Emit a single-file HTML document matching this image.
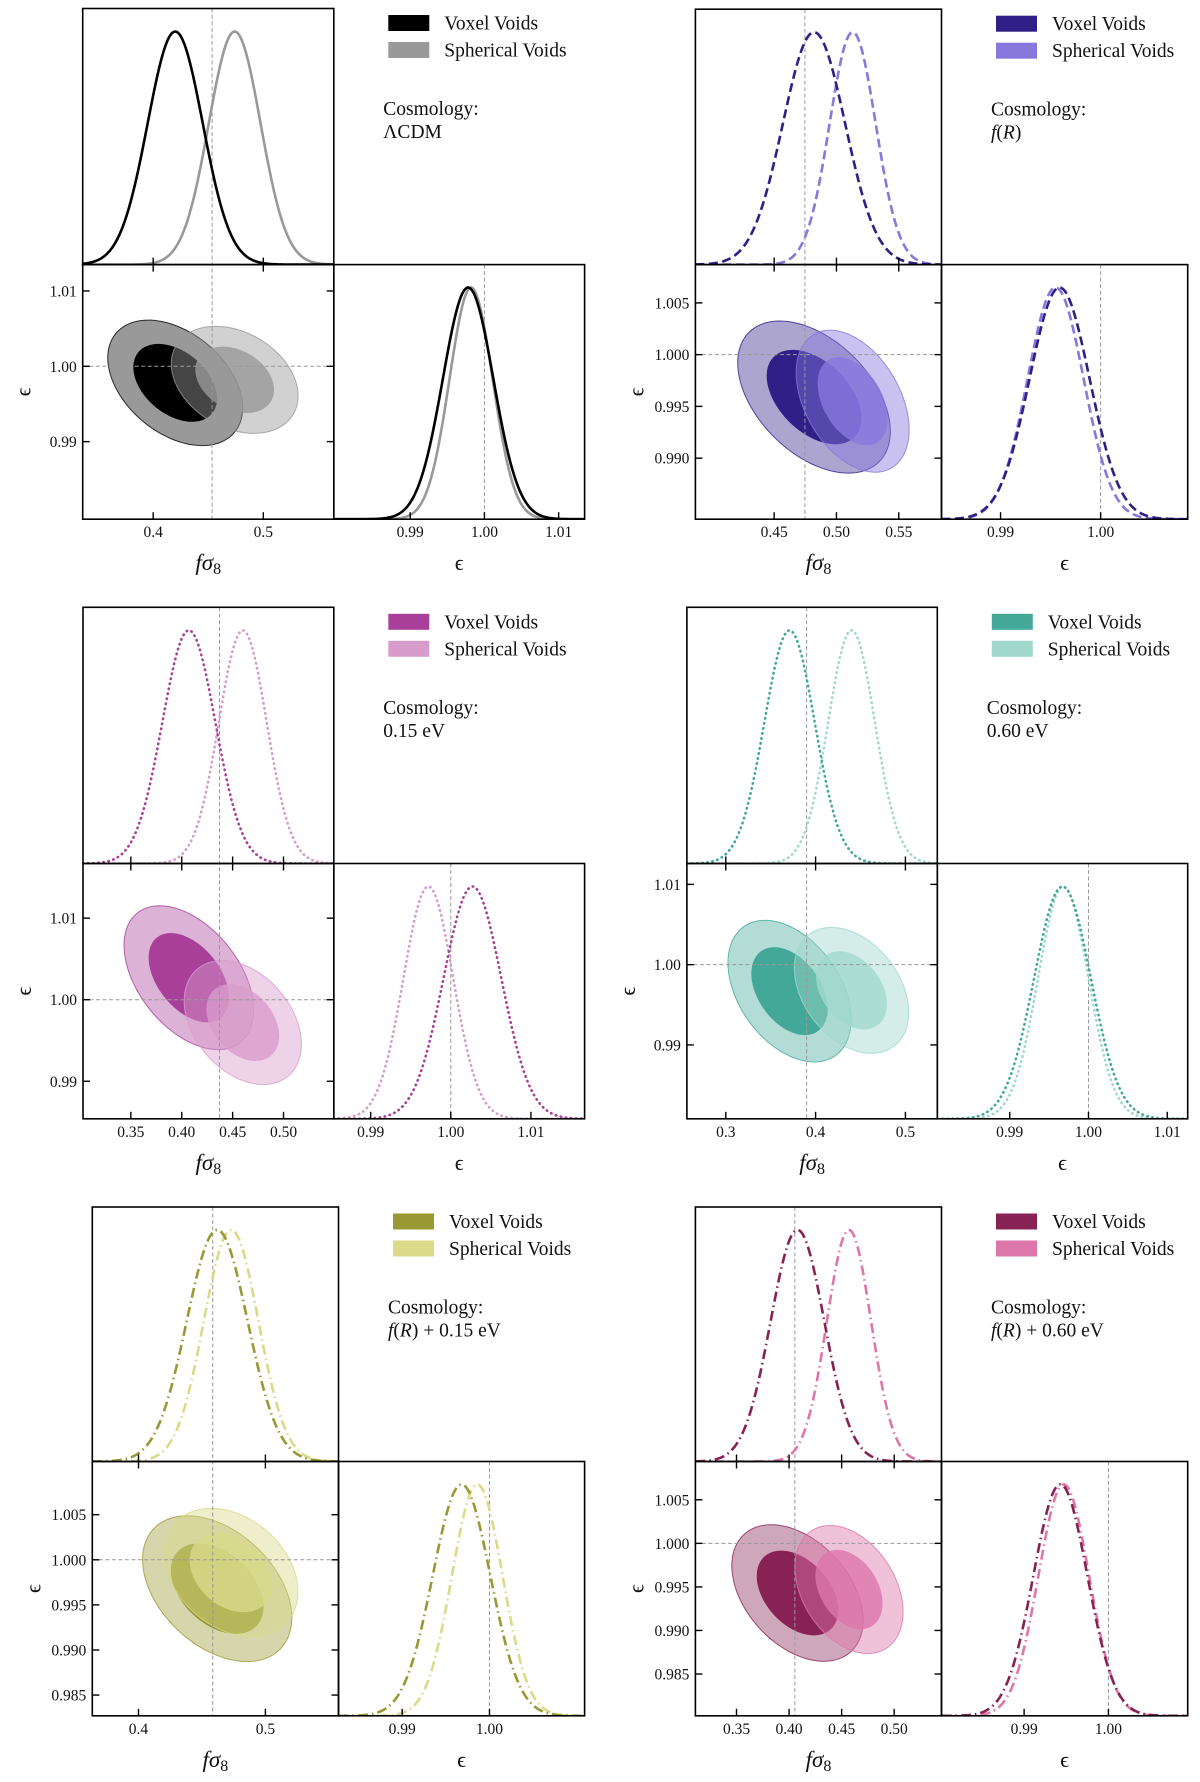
<!DOCTYPE html>
<html><head><meta charset="utf-8"><title>Void posteriors</title>
<style>
html,body{margin:0;padding:0;background:#fff;}
svg{display:block;font-family:"Liberation Serif","DejaVu Serif",serif;}
</style></head>
<body>
<svg id="chart" xmlns="http://www.w3.org/2000/svg" width="1200" height="1782" viewBox="0 0 1200 1782"></svg>
<script>
// ---- data (one entry per cosmology panel) ----
const cosmologies = ['ΛCDM', 'f(R)', '0.15 eV', '0.60 eV', 'f(R) + 0.15 eV', 'f(R) + 0.60 eV'];
const voxelFsMean  = [0.420, 0.482, 0.407, 0.371, 0.462, 0.408];
const voxelFsSigma = [0.0250, 0.0250, 0.0260, 0.0280, 0.0240, 0.0255];
const voxelEpsMean = [0.9978, 0.9959, 1.0027, 0.9967, 0.9968, 0.9943];
const voxelEpsSigma= [0.0034, 0.0030, 0.0036, 0.0036, 0.0033, 0.0032];
const voxelRho     = [-0.4, -0.45, -0.45, -0.4, -0.4, -0.4];
const sphFsMean    = [0.474, 0.513, 0.460, 0.440, 0.473, 0.457];
const sphFsSigma   = [0.0235, 0.0185, 0.0235, 0.0260, 0.0215, 0.0210];
const sphEpsMean   = [0.9982, 0.9955, 0.9972, 0.9968, 0.9986, 0.9947];
const sphEpsSigma  = [0.0029, 0.0028, 0.0031, 0.0032, 0.0029, 0.0030];
const sphRho       = [-0.3, -0.4, -0.35, -0.35, -0.3, -0.35];
const truthFs      = [0.4535, 0.4747, 0.4371, 0.390, 0.4585, 0.4055];
const truthEps     = [1.0, 1.0, 1.0, 1.0, 1.0, 1.0];
const fsTicks = [[0.4,0.5],[0.45,0.5,0.55],[0.35,0.4,0.45,0.5],[0.3,0.4,0.5],[0.4,0.5],[0.35,0.4,0.45,0.5]];
const fsTickLabels = [['0.4','0.5'],['0.45','0.50','0.55'],['0.35','0.40','0.45','0.50'],['0.3','0.4','0.5'],['0.4','0.5'],['0.35','0.40','0.45','0.50']];
const epsTicks = [[0.99,1.0,1.01],[0.99,0.995,1.0,1.005],[0.99,1.0,1.01],[0.99,1.0,1.01],[0.985,0.99,0.995,1.0,1.005],[0.985,0.99,0.995,1.0,1.005]];
const epsTickLabels = [['0.99','1.00','1.01'],['0.990','0.995','1.000','1.005'],['0.99','1.00','1.01'],['0.99','1.00','1.01'],['0.985','0.990','0.995','1.000','1.005'],['0.985','0.990','0.995','1.000','1.005']];
const diagTicks = [[0.99,1.0,1.01],[0.99,1.0],[0.99,1.0,1.01],[0.99,1.0,1.01],[0.99,1.0],[0.99,1.0]];
const diagTickLabels = [['0.99','1.00','1.01'],['0.99','1.00'],['0.99','1.00','1.01'],['0.99','1.00','1.01'],['0.99','1.00'],['0.99','1.00']];
const fsRange  = [[0.336,0.564],[0.3868,0.5843],[0.303,0.5494],[0.2567,0.5355],[0.3636,0.5576],[0.3109,0.545]];
const epsRange = [[0.9797,1.0135],[0.9841,1.0087],[0.9854,1.0167],[0.9808,1.0126],[0.9827,1.0109],[0.9802,1.0094]];

// ---- layout / style ----
const frames = [[82.7,333.8,584.6,8.5,264.6,519.2],[695.4,941.5,1187.7,9.2,264.6,519.2],[83,333.8,584.6,607.3,863.5,1118.8],[686.9,937.3,1187.7,607.3,863.5,1118.8],[92.3,338.5,584.6,1207,1461.5,1715.8],[695.4,941.5,1187.7,1207,1461.5,1715.8]];
const voxelColors = ['#000000','#2f1f86','#a8409a','#44a898','#999933','#882255'];
const sphColors   = ['#999999','#8877dd','#d89ccc','#a0d8cc','#dada8a','#dd77aa'];
const dashes = [null,'9,4.5','0.5,4.6','0.5,4.6','10,4,1.5,4','10,4,1.5,4'];

const NS='http://www.w3.org/2000/svg';
const svg=document.getElementById('chart');
function mk(tag,attrs,parent){const e=document.createElementNS(NS,tag);for(const k in attrs)e.setAttribute(k,attrs[k]);(parent||svg).appendChild(e);return e;}

function gauss(x,m,s){return Math.exp(-0.5*((x-m)/s)*((x-m)/s));}

for(let i=0;i<6;i++){
  const [x0,x1,x2,y0,y1,y2]=frames[i];
  const [fa,fb]=fsRange[i],[ea,eb]=epsRange[i];
  const sx=v=>x0+(v-fa)/(fb-fa)*(x1-x0);
  const sy=v=>y2-(v-ea)/(eb-ea)*(y2-y1);
  const dx=v=>x1+(v-ea)/(eb-ea)*(x2-x1);
  const g=mk('g',{});
  
  

  const defs=mk('defs',{},g);
  const cid='c2d'+i, cm='cm'+i, cd='cd'+i;
  const c1=mk('clipPath',{id:cid},defs); mk('rect',{x:x0,y:y1,width:x1-x0,height:y2-y1},c1);
  const c2=mk('clipPath',{id:cm},defs); mk('rect',{x:x0,y:y0,width:x1-x0,height:y1-y0},c2);
  const c3=mk('clipPath',{id:cd},defs); mk('rect',{x:x1,y:y1,width:x2-x1,height:y2-y1},c3);

  const cg=mk('g',{'clip-path':'url(#'+cid+')'},g);
  const series=[
    {n:'voxel',fm:voxelFsMean[i],fs:voxelFsSigma[i],em:voxelEpsMean[i],es:voxelEpsSigma[i],r:voxelRho[i],c:voxelColors[i],oo:0.4,io:1.0},
    {n:'spherical',fm:sphFsMean[i],fs:sphFsSigma[i],em:sphEpsMean[i],es:sphEpsSigma[i],r:sphRho[i],c:sphColors[i],oo:0.45,io:0.8}
  ];
  series.forEach(s=>{
    [[2.45,s.oo,'outer'],[1.52,s.io,'inner']].forEach(([k,op,lvl])=>{
      let d='';
      for(let t=0;t<=120;t++){
        const a=t/120*2*Math.PI;
        const fv=s.fm+k*s.fs*Math.cos(a);
        const ev=s.em+k*s.es*(s.r*Math.cos(a)+Math.sqrt(1-s.r*s.r)*Math.sin(a));
        d+=(t?'L':'M')+sx(fv).toFixed(2)+','+sy(ev).toFixed(2);
      }
      const p=mk('path',{d:d+'Z',fill:s.c,'fill-opacity':op,stroke:lvl==='outer'?s.c:'none','stroke-opacity':0.8,'stroke-width':1},cg);
      
      
    });
  });
  mk('line',{x1:sx(truthFs[i]),x2:sx(truthFs[i]),y1:y0,y2:y2,stroke:'#999','stroke-width':1,'stroke-dasharray':'4,2.5'},g);
  mk('line',{x1:x0,x2:x1,y1:sy(truthEps[i]),y2:sy(truthEps[i]),stroke:'#999','stroke-width':1,'stroke-dasharray':'4,2.5'},g);
  mk('line',{x1:dx(truthEps[i]),x2:dx(truthEps[i]),y1:y1,y2:y2,stroke:'#999','stroke-width':1,'stroke-dasharray':'4,2.5'},g);

  const mg=mk('g',{'clip-path':'url(#'+cm+')'},g);
  const dg=mk('g',{'clip-path':'url(#'+cd+')'},g);
  const hM=(y1-y0)*0.91, hD=(y2-y1)*0.91;
  series.slice().reverse().forEach(s=>{
    let d1='',d2='';
    for(let t=0;t<=240;t++){
      const fv=fa+(fb-fa)*t/240, ev=ea+(eb-ea)*t/240;
      d1+=(t?'L':'M')+sx(fv).toFixed(2)+','+(y1-hM*gauss(fv,s.fm,s.fs)).toFixed(2);
      d2+=(t?'L':'M')+dx(ev).toFixed(2)+','+(y2-hD*gauss(ev,s.em,s.es)).toFixed(2);
    }
    const at={fill:'none',stroke:s.c,'stroke-width':2.6,'stroke-linecap':dashes[i]&&dashes[i].startsWith('0.5')?'round':'butt'};
    if(dashes[i])at['stroke-dasharray']=dashes[i];
    const p1=mk('path',Object.assign({d:d1},at),mg);
    
    
    const p2=mk('path',Object.assign({d:d2},at),dg);
    
    
  });

  [[x0,y0,x1-x0,y1-y0,'fs8-marginal-axes'],[x0,y1,x1-x0,y2-y1,'joint-axes'],[x1,y1,x2-x1,y2-y1,'eps-marginal-axes']].forEach(([x,y,w,h,n])=>{
    const r=mk('rect',{x:x,y:y,width:w,height:h,fill:'none',stroke:'#000','stroke-width':1.6},g);
    
    
  });
  const T=7;
  fsTicks[i].forEach((v,j)=>{
    const X=sx(v);
    mk('line',{x1:X,x2:X,y1:y2,y2:y2-T,stroke:'#000','stroke-width':1.4},g);
    mk('line',{x1:X,x2:X,y1:y1-T,y2:y1+T,stroke:'#000','stroke-width':1.4},g);
    const t=mk('text',{x:X,y:y2+18,'font-size':15.5,'text-anchor':'middle',fill:'#111'},g);
    t.textContent=fsTickLabels[i][j];
    
    
  });
  epsTicks[i].forEach((v,j)=>{
    const Y=sy(v);
    mk('line',{x1:x0,x2:x0+T,y1:Y,y2:Y,stroke:'#000','stroke-width':1.4},g);
    mk('line',{x1:x1-T,x2:x1,y1:Y,y2:Y,stroke:'#000','stroke-width':1.4},g);
    const t=mk('text',{x:x0-6,y:Y+5.5,'font-size':15.5,'text-anchor':'end',fill:'#111'},g);
    t.textContent=epsTickLabels[i][j];
    
    
  });
  diagTicks[i].forEach((v,j)=>{
    const X=dx(v);
    mk('line',{x1:X,x2:X,y1:y2,y2:y2-T,stroke:'#000','stroke-width':1.4},g);
    const t=mk('text',{x:X,y:y2+18,'font-size':15.5,'text-anchor':'middle',fill:'#111'},g);
    t.textContent=diagTickLabels[i][j];
    
    
  });
  const xl=mk('text',{x:(x0+x1)/2,y:y2+51,'font-size':23,'text-anchor':'middle',fill:'#111'},g);
  xl.innerHTML='<tspan font-style="italic">fσ</tspan><tspan font-size="16" dy="4">8</tspan>';
  
  
  const el=mk('text',{x:(x1+x2)/2,y:y2+51,'font-size':22,'text-anchor':'middle',fill:'#111'},g);
  el.textContent='ϵ';
  
  
  const yl=mk('text',{x:0,y:0,'font-size':22,'text-anchor':'middle',fill:'#111',transform:'translate('+(x0-52)+','+((y1+y2)/2)+') rotate(-90)'},g);
  yl.textContent='ϵ';
  
  

  const lg=mk('g',{},g);
  
  
  [['Voxel Voids',voxelColors[i],6.5,21],['Spherical Voids',sphColors[i],33.5,48]].forEach(([lab,col,py,by])=>{
    const r=mk('rect',{x:x1+54.5,y:y0+py,width:41,height:16,fill:col},lg);
    
    
    const t=mk('text',{x:x1+110.5,y:y0+by,'font-size':19.5,fill:'#111'},lg);
    t.textContent=lab;
    
    
  });
  const c1t=mk('text',{x:x1+49.5,y:y0+106.5,'font-size':19.5,fill:'#111'},g);
  c1t.textContent='Cosmology:';
  
  
  const c2t=mk('text',{x:x1+49.5,y:y0+129.5,'font-size':19.5,fill:'#111'},g);
  const cn=cosmologies[i];
  if(cn.startsWith('f(R)')){
    c2t.innerHTML='<tspan font-style="italic">f</tspan>(<tspan font-style="italic">R</tspan>)'+cn.slice(4);
  } else c2t.textContent=cn;
  
  
}
</script>
</body></html>
